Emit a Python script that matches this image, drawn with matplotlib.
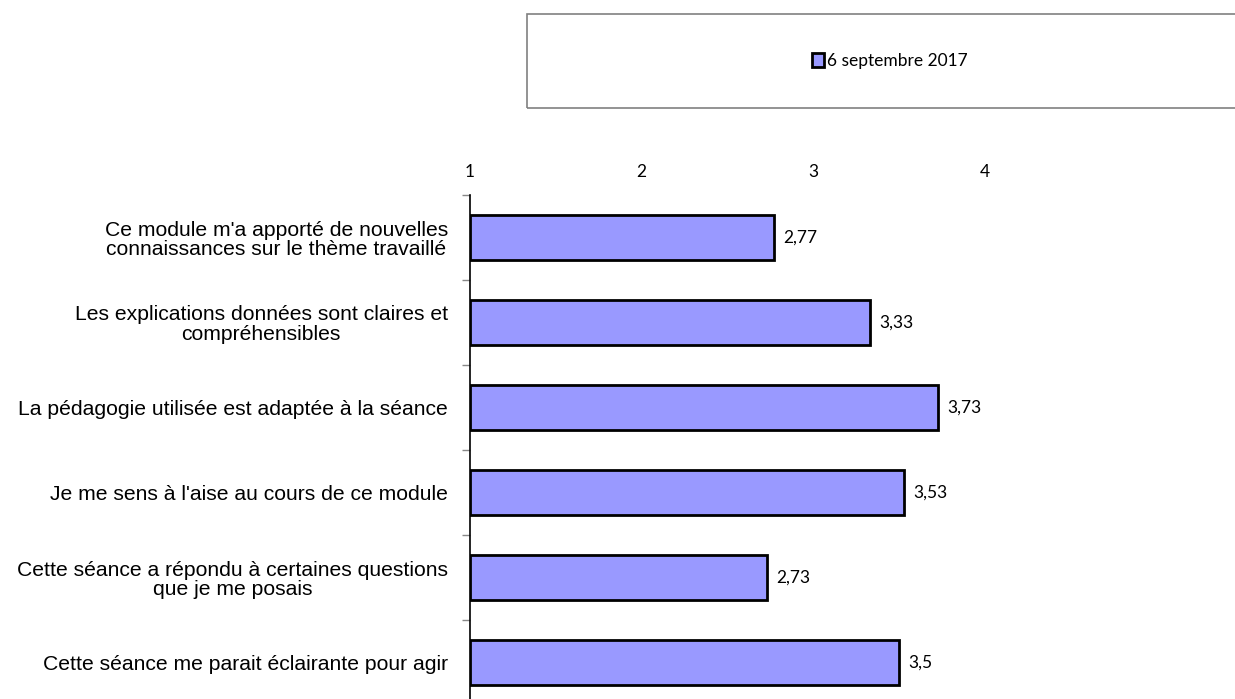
import matplotlib.pyplot as plt
from matplotlib.patches import Rectangle, Patch

# données
questions = [
    "Ce module m'a apporté de nouvelles\nconnaissances sur le thème travaillé",
    "Les explications données sont claires et\ncompréhensibles",
    "La pédagogie utilisée est adaptée à la séance",
    "Je me sens à l'aise au cours de ce module",
    "Cette séance a répondu à certaines questions\nque je me posais",
    "Cette séance me parait éclairante pour agir",
]
scores = [2.77, 3.33, 3.73, 3.53, 2.73, 3.5]
score_labels = ["2,77", "3,33", "3,73", "3,53", "2,73", "3,5"]
x_ticks = [1, 2, 3, 4]
serie = "6 septembre 2017"

W, H = 1235, 699
fig = plt.figure(figsize=(W / 100, H / 100), dpi=100)

# axes placés en pixels (le bas déborde légèrement de l'image)
left, right, top, bottom = 470, 1156, 195, 705
ax = fig.add_axes([left / W, 1 - bottom / H, (right - left) / W, (bottom - top) / H])

pos = list(range(len(questions)))
ax.barh(pos, [s - 1 for s in scores], left=1, height=0.52,
        color="#9999FF", edgecolor="black", linewidth=2)

ax.set_xlim(1, 5)
ax.set_ylim(len(questions) - 0.5, -0.5)

for p, s, lab in zip(pos, scores, score_labels):
    ax.text(s + 0.055, p, lab, va="center", ha="left",
            fontsize=12.5, family="Lato")

ax.xaxis.tick_top()
ax.set_xticks(x_ticks)
ax.set_xticklabels([str(t) for t in x_ticks], family="Lato", fontsize=12.5)
ax.tick_params(axis="x", length=0, pad=11)

ax.set_yticks(pos)
ax.set_yticklabels(questions, family="Liberation Sans", fontsize=15.2,
                   ha="right", multialignment="center", linespacing=1.02)
ax.tick_params(axis="y", which="major", length=0, pad=16)
ax.set_yticks([p - 0.5 for p in pos] + [len(pos) - 0.5], minor=True)
ax.tick_params(axis="y", which="minor", length=6, color="#888888", width=1)

for sp in ["top", "right", "bottom"]:
    ax.spines[sp].set_visible(False)
ax.spines["left"].set_linewidth(1.2)

# cadre de légende
fig.patches.append(Rectangle((527 / W, 1 - 108 / H), 1, 94 / H,
                             transform=fig.transFigure, fill=False,
                             edgecolor="#808080", linewidth=1.2))
fig.legend(handles=[Patch(facecolor="#9999FF", edgecolor="black", linewidth=2, label=serie)],
           loc="center", bbox_to_anchor=(890 / W, 1 - 61 / H), frameon=False,
           handlelength=0.7, handleheight=0.8, handletextpad=0.2,
           prop={"family": "Lato", "size": 12.5})

fig.savefig("out.png", dpi=100)
